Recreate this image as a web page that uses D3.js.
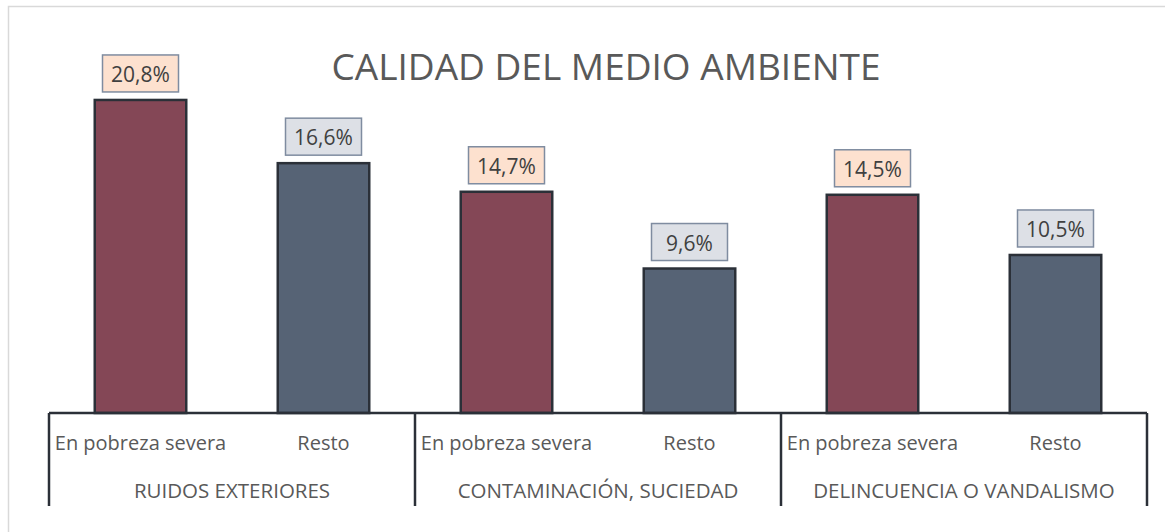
<!DOCTYPE html>
<html>
<head>
<meta charset="utf-8">
<script src="https://cdn.jsdelivr.net/npm/d3@7"></script>
<style>
  body { margin: 0; background: #fff; }
  svg { display: block; font-family: "Open Sans", sans-serif; }
</style>
</head>
<body>
<div id="chart"></div>
<script>
const groups = ["RUIDOS EXTERIORES", "CONTAMINACIÓN, SUCIEDAD", "DELINCUENCIA O VANDALISMO"]
const series = ["En pobreza severa", "Resto"]
const severa = [20.8, 14.7, 14.5]
const resto = [16.6, 9.6, 10.5]

const width = 1165,
    height = 532

const margin = ({ left: 49, right: 18, base: 413 })

// flatten into bars
const rows = []
groups.forEach((g, i) => {
    rows.push({ group: g, serie: series[0], value: severa[i], s: 0 })
    rows.push({ group: g, serie: series[1], value: resto[i], s: 1 })
})

const fills = ["#844756", "#566375"]
const boxFills = ["#FDE1CF", "#DDE0E6"]

const x = d3.scaleBand()
    .domain(d3.range(rows.length))
    .range([margin.left, width - margin.right])
    .paddingInner(0.5)
    .paddingOuter(0.25)

const step = x.step()

const y = d3.scaleLinear()
    .domain([0, 22])
    .range([margin.base, margin.base - 22 * 15.05])

const svg = d3.select("#chart").append("svg")
    .attr("width", width)
    .attr("height", height)

// chart frame
svg.append("rect")
    .attr("x", 8.5).attr("y", 6.5)
    .attr("width", width).attr("height", height)
    .attr("fill", "none")
    .attr("stroke", "#d9d9d9")
    .attr("stroke-width", 1.5)

svg.append("text")
    .attr("x", 606)
    .attr("y", 80)
    .attr("text-anchor", "middle")
    .attr("font-size", 37)
    .attr("fill", "#595959")
    .text("CALIDAD DEL MEDIO AMBIENTE")

const bar = svg.selectAll("g.bar")
    .data(rows)
    .join("g")
    .attr("class", "bar")

bar.append("rect")
    .attr("x", (d, i) => x(i))
    .attr("y", d => y(d.value))
    .attr("width", x.bandwidth())
    .attr("height", d => y(0) - y(d.value))
    .attr("fill", d => fills[d.s])
    .attr("stroke", "#2b3038")
    .attr("stroke-width", 2.5)

const bw = 76, bh = 37
bar.append("rect")
    .attr("x", (d, i) => x(i) + x.bandwidth() / 2 - bw / 2)
    .attr("y", d => y(d.value) - 8 - bh)
    .attr("width", bw)
    .attr("height", bh)
    .attr("fill", d => boxFills[d.s])
    .attr("stroke", "#7f8ca0")
    .attr("stroke-width", 1.5)

bar.append("text")
    .attr("x", (d, i) => x(i) + x.bandwidth() / 2)
    .attr("y", d => y(d.value) - 8 - 10)
    .attr("text-anchor", "middle")
    .attr("font-size", 21)
    .attr("fill", "#404040")
    .text(d => d3.format(".1f")(d.value).replace(".", ",") + "%")

// category axis
const axis = svg.append("g").attr("stroke", "#2b3038").attr("stroke-width", 2.5)
axis.append("line")
    .attr("x1", margin.left).attr("x2", width - margin.right)
    .attr("y1", y(0)).attr("y2", y(0))

d3.range(groups.length + 1).forEach(k => {
    const gx = margin.left + k * 2 * step
    axis.append("line")
        .attr("x1", gx).attr("x2", gx)
        .attr("y1", y(0)).attr("y2", 506)
})

svg.selectAll("text.cat")
    .data(rows)
    .join("text")
    .attr("class", "cat")
    .attr("x", (d, i) => x(i) + x.bandwidth() / 2)
    .attr("y", 450)
    .attr("text-anchor", "middle")
    .attr("font-size", 20)
    .attr("fill", "#595959")
    .text(d => d.serie)

svg.selectAll("text.grp")
    .data(groups)
    .join("text")
    .attr("class", "grp")
    .attr("x", (d, i) => margin.left + (i * 2 + 1) * step)
    .attr("y", 498)
    .attr("text-anchor", "middle")
    .attr("font-size", 20.5)
    .attr("fill", "#595959")
    .text(d => d)
</script>
</body>
</html>
